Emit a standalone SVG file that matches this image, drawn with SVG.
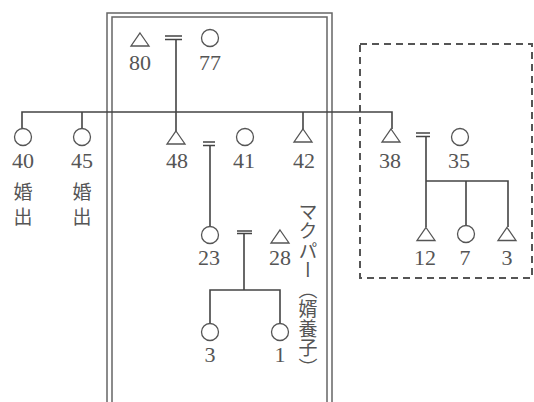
<svg xmlns="http://www.w3.org/2000/svg" width="534" height="402" viewBox="0 0 534 402">
<style>
.s{fill:none;stroke:#555;stroke-width:1.3}
.l{fill:none;stroke:#444;stroke-width:1.6}
.box{fill:none;stroke:#666;stroke-width:1.5}
.dash{fill:none;stroke:#555;stroke-width:2;stroke-dasharray:7 5}
.n{font-family:"Liberation Serif",serif;font-size:22px;fill:#555;text-anchor:middle}
.k{font-family:"Noto Sans CJK JP",sans-serif;font-size:19px;fill:#555;text-anchor:middle}
</style>
<defs>
<path id="tri" d="M0,-6.5 L9,6.5 L-9,6.5 Z"/>
</defs>
<rect width="534" height="402" fill="#fff"/>
<g id="frames">
<path class="box" d="M107,402 V13 H332 V402"/>
<path class="box" d="M112,402 V17 H327 V402"/>
<rect class="dash" x="360" y="44" width="172" height="234"/>
</g>
<g id="connectors">
<path class="l" d="M22,128 V112 H392 V129"/>
<path class="l" d="M82,112 V128"/>
<path class="l" d="M303,112 V129"/>
<path class="l" d="M165,36 H182 M165,39.5 H182 M176,40 V131"/>
<path class="l" d="M203,142 H215 M203,145.5 H215 M210,146 V226"/>
<path class="l" d="M416,133 H430 M416,136.5 H430 M426,137 V227"/>
<path class="l" d="M426,181 H508 V227 M466,181 V225"/>
<path class="l" d="M237,231 H252 M237,233.5 H252 M244,234 V290 M210,323 V290 H280 V323"/>
</g>
<g id="n80"><use href="#tri" class="s" x="140" y="39.5"/><text class="n" x="140" y="70">80</text></g>
<g id="n77"><circle class="s" cx="210" cy="38" r="8.5"/><text class="n" x="210" y="70">77</text></g>
<g id="n40"><circle class="s" cx="23" cy="137" r="8.5"/><text class="n" x="23" y="168">40</text><text class="k" x="23" y="199">婚</text><text class="k" x="23" y="224">出</text></g>
<g id="n45"><circle class="s" cx="82" cy="137" r="8.5"/><text class="n" x="82" y="168">45</text><text class="k" x="82" y="199">婚</text><text class="k" x="82" y="224">出</text></g>
<g id="n48"><use href="#tri" class="s" x="176" y="137.5"/><text class="n" x="177" y="168">48</text></g>
<g id="n41"><circle class="s" cx="245" cy="137" r="8.5"/><text class="n" x="244" y="168">41</text></g>
<g id="n42"><use href="#tri" class="s" x="303" y="135.5"/><text class="n" x="304" y="168">42</text></g>
<g id="n38"><use href="#tri" class="s" x="391" y="135.5"/><text class="n" x="390" y="168">38</text></g>
<g id="n35"><circle class="s" cx="460" cy="137" r="8.5"/><text class="n" x="459" y="168">35</text></g>
<g id="n23"><circle class="s" cx="210" cy="235" r="8.5"/><text class="n" x="209" y="265">23</text></g>
<g id="n28"><use href="#tri" class="s" x="280" y="236.5"/><text class="n" x="280" y="265">28</text></g>
<g id="n12"><use href="#tri" class="s" x="426" y="234"/><text class="n" x="425" y="265">12</text></g>
<g id="n7"><circle class="s" cx="466" cy="234" r="8.5"/><text class="n" x="465" y="265">7</text></g>
<g id="n3b"><use href="#tri" class="s" x="507" y="234"/><text class="n" x="507" y="265">3</text></g>
<g id="n3"><circle class="s" cx="210" cy="332" r="8.5"/><text class="n" x="210" y="362">3</text></g>
<g id="n1"><circle class="s" cx="280" cy="332" r="8.5"/><text class="n" x="280" y="362">1</text></g>
<g id="label"><text x="308" y="202" style="writing-mode:vertical-rl;font-family:'Noto Sans CJK JP',sans-serif;font-size:19px;letter-spacing:0.5px;fill:#555">マクパー（婿養子）</text></g>
</svg>
